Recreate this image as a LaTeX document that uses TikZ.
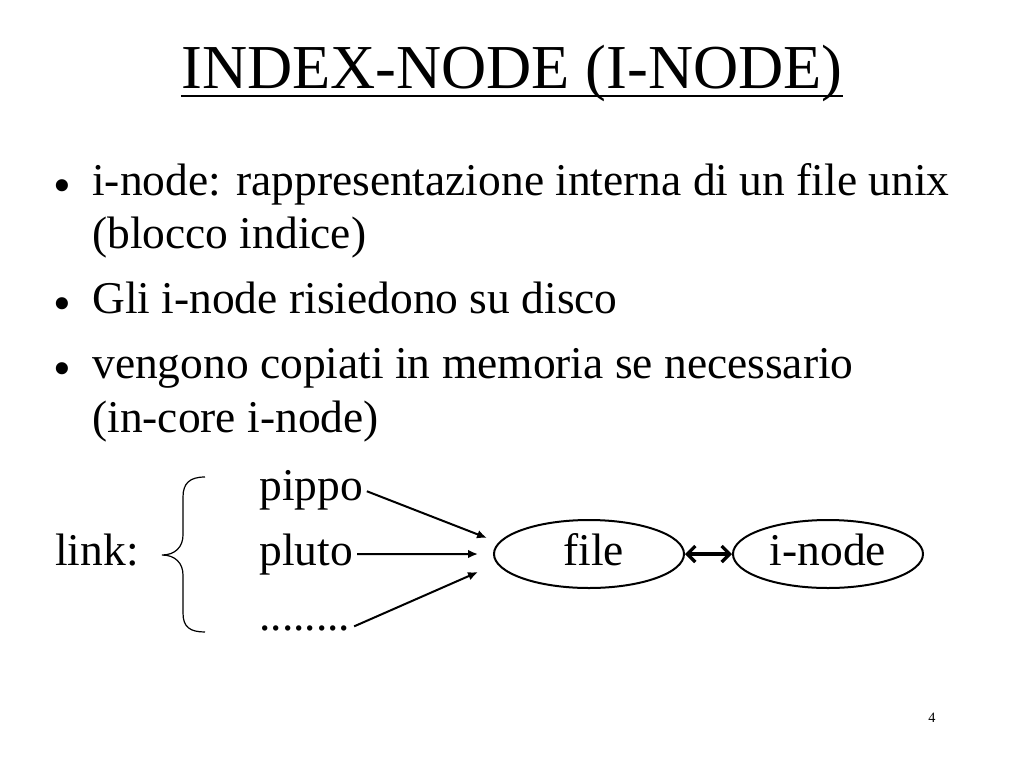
\documentclass[tikz,border=0pt]{standalone}
\usepackage{fontspec}
\setmainfont{Liberation Serif}
\usetikzlibrary{shapes.geometric,arrows.meta}

\begin{document}
\begin{tikzpicture}[x=0.75pt,y=0.75pt,yscale=-1,xscale=1,
  txt/.style={inner sep=0,anchor=base west,font=\fontsize{34.1pt}{40pt}\selectfont},
  bul/.style={inner sep=0,anchor=base west,font=\fontsize{38pt}{44pt}\selectfont},
  oval/.style={draw,ellipse,line width=1.5pt,minimum width=142.5pt,minimum height=51pt,inner sep=0,
    text height=23.3pt,text depth=6.8pt,font=\fontsize{34.1pt}{40pt}\selectfont},
  link/.style={line width=1.5pt,shorten <=3pt,-{Latex[length=7.5pt,width=6.5pt]}},
  twoway/.style={draw=black,line width=2.5pt,<->,>={Straight Barb[length=6pt,width=12pt]}}]
%uncomment if require: \path (0,768); %set diagram left start at 0, and has height of 768
\useasboundingbox (0,0) rectangle (1024,768);

% Text Node
\draw (512,88) node (title) [inner sep=0,anchor=base,font=\fontsize{46.9pt}{56pt}\selectfont] {INDEX-NODE (I-NODE)};
%Straight Lines
\draw [line width=1.8pt] ([yshift=6pt]title.base west) -- ([yshift=6pt]title.base east) ;

% Text Node
\draw (53,202) node (dot1) [bul] {•};
% Text Node
\draw (92,195) node (item1) [txt] {i-node: rappresentazione interna di un file unix};
% Text Node
\draw (92,248) node (item1b) [txt] {(blocco indice)};
% Text Node
\draw (53,320) node (dot2) [bul] {•};
% Text Node
\draw (92,313) node (item2) [txt] {Gli i-node risiedono su disco};
% Text Node
\draw (53,385) node (dot3) [bul] {•};
% Text Node
\draw (92,378) node (item3) [txt] {vengono copiati in memoria se necessario};
% Text Node
\draw (92,432) node (item3b) [txt] {(in-core i-node)};

% Text Node
\draw (55,565) node (linklbl) [txt] {link:};
% Text Node
\draw (259,500) node (pippo) [txt] {pippo};
% Text Node
\draw (259,565) node (pluto) [txt] {pluto};
% Text Node
\draw (259,630) node (more) [txt] {........};

%Shape: Brace
\draw [line width=0.9pt] (205,477) .. controls (190,477) and (183,483) .. (183,497) -- (183,535) .. controls (183,547) and (175,555) .. (162,555) .. controls (175,555) and (183,563) .. (183,575) -- (183,613) .. controls (183,627) and (190,632) .. (205,632) ;

%Shape: Ellipse
\draw (589,554) node (file) [oval] {\hspace*{7pt}file};
%Shape: Ellipse
\draw (828,554) node (inode) [oval] {i-node};

\coordinate (in1) at (487,538);
\coordinate (in2) at (478,554);
\coordinate (in3) at (478,572);

%Straight Lines
\draw [link] (pippo.east) -- (in1) ;
%Straight Lines
\draw [link] (pluto.east) -- (in2) ;
%Straight Lines
\draw [link] (more.east) -- (in3) ;
%Straight Lines
\path [twoway] (file.east) -- (inode.west) ;

% Text Node
\draw (932,718) node (pagenum) [inner sep=0,font=\fontsize{10.7pt}{13pt}\selectfont] {4};

\end{tikzpicture}
\end{document}
